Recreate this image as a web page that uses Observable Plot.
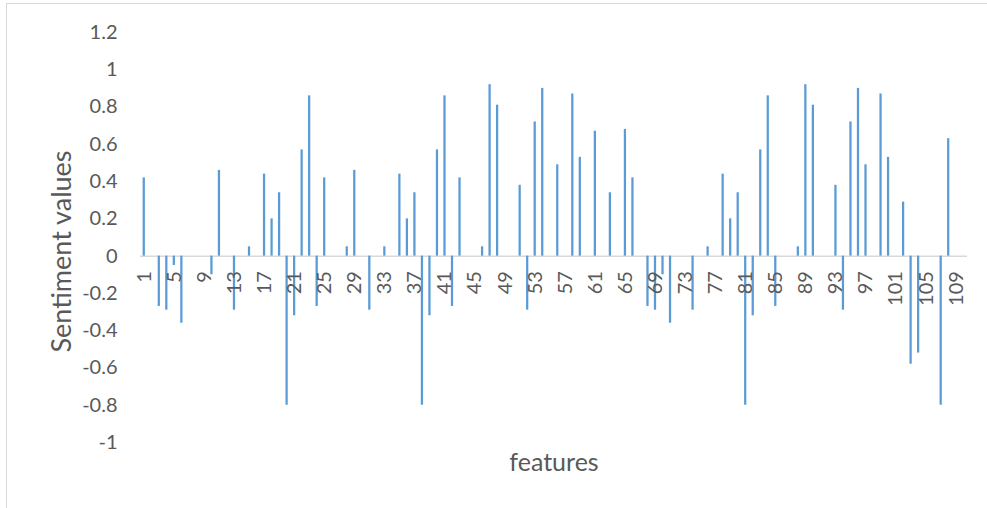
<!DOCTYPE html>
<html>
<head>
<meta charset="utf-8">
<script src="https://cdn.jsdelivr.net/npm/d3@7"></script>
<script src="https://cdn.jsdelivr.net/npm/@observablehq/plot@0.6"></script>
<style>
  html, body { margin: 0; padding: 0; background: #fff; overflow: hidden; }
  #wrap { position: relative; width: 987px; height: 508px; }
  #border { position: absolute; left: 6px; top: 3px; width: 990px; height: 520px; border: 1px solid #d9d9d9; box-sizing: border-box; pointer-events: none; }
</style>
</head>
<body>
<div id="wrap"><div id="border"></div></div>
<script>
// Feature numbers (categories 1..110)
const features = d3.range(1, 111);
// Non-zero sentiment values, keyed by feature number
const valueFeatures = [1, 3, 4, 5, 6, 10, 11, 13, 15, 17, 18, 19, 20, 21, 22, 23, 24, 25,
  28, 29, 31, 33, 35, 36, 37, 38, 39, 40, 41, 42, 43, 46, 47, 48, 51, 52, 53, 54, 56, 58, 59,
  61, 63, 65, 66, 68, 69, 70, 71, 74, 76, 78, 79, 80, 81, 82, 83, 84, 85, 88, 89, 90, 93, 94,
  95, 96, 97, 99, 100, 102, 103, 104, 107, 108];
const sentimentValues = [0.42, -0.27, -0.29, -0.05, -0.36, -0.1, 0.46, -0.29, 0.05, 0.44, 0.2, 0.34, -0.8, -0.32, 0.57, 0.86, -0.27, 0.42,
  0.05, 0.46, -0.29, 0.05, 0.44, 0.2, 0.34, -0.8, -0.32, 0.57, 0.86, -0.27, 0.42, 0.05, 0.92, 0.81, 0.38, -0.29, 0.72, 0.9, 0.49, 0.87, 0.53,
  0.67, 0.34, 0.68, 0.42, -0.27, -0.29, -0.1, -0.36, -0.29, 0.05, 0.44, 0.2, 0.34, -0.8, -0.32, 0.57, 0.86, -0.27, 0.05, 0.92, 0.81, 0.38, -0.29,
  0.72, 0.9, 0.49, 0.87, 0.53, 0.29, -0.58, -0.52, -0.8, 0.63];
// Axis tick labels
const xTickLabels = [1, 5, 9, 13, 17, 21, 25, 29, 33, 37, 41, 45, 49, 53, 57, 61, 65, 69, 73, 77, 81, 85, 89, 93, 97, 101, 105, 109];
const yTicks = [-1, -0.8, -0.6, -0.4, -0.2, 0, 0.2, 0.4, 0.6, 0.8, 1, 1.2];

const lookup = new Map(valueFeatures.map((f, i) => [f, sentimentValues[i]]));
const data = features.map(f => ({feature: f, value: lookup.get(f) ?? 0}));

const chart = Plot.plot({
  width: 987,
  height: 508,
  marginLeft: 140,
  marginRight: 20,
  marginTop: 32,
  marginBottom: 66,
  style: {fontFamily: "Lato, 'Open Sans', sans-serif", fontSize: "20px", color: "#595959", background: "transparent"},
  x: {type: "band", domain: features, paddingInner: 0.7, paddingOuter: 0.35, axis: null},
  y: {domain: [-1, 1.2], ticks: yTicks, tickFormat: d => String(d), tickSize: 0, tickPadding: 23, label: null},
  marks: [
    Plot.ruleY([0], {stroke: "#d9d9d9", strokeWidth: 1.5}),
    Plot.barY(data.filter(d => d.value !== 0), {x: "feature", y: "value", fill: "#5b9bd5"}),
    Plot.text(xTickLabels, {x: d => d, y: 0, text: d => String(d), rotate: -90, textAnchor: "end", dy: 15, fill: "#595959", fontSize: 20}),
    Plot.text(["Sentiment values"], {frameAnchor: "left", textAnchor: "middle", dx: -78, dy: 14, rotate: -90, fill: "#595959", fontSize: 27}),
    Plot.text(["features"], {frameAnchor: "bottom", dy: 28, fill: "#595959", fontSize: 25})
  ]
});
document.getElementById("wrap").appendChild(chart);
chart.style.position = "absolute";
chart.style.left = "0px";
chart.style.top = "0px";
</script>
</body>
</html>
